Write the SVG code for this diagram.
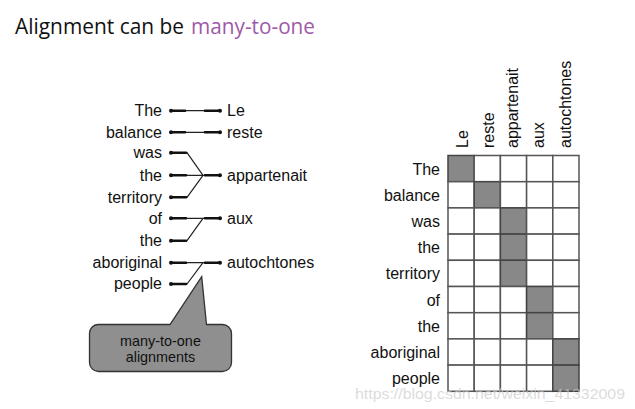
<svg xmlns="http://www.w3.org/2000/svg" width="635" height="409" viewBox="0 0 635 409">
<style>
.w{font-family:"Liberation Sans",Arial,sans-serif;font-size:16px;fill:#111}
.r{text-anchor:end}
.thin{stroke:#222;stroke-width:1.2;fill:none}
.thick{stroke:#111;stroke-width:2.6;fill:none;stroke-linecap:round}
.dot{fill:#111}
.cell{fill:#fff;stroke:#555;stroke-width:1.5}
.on{fill:#888;stroke:#444;stroke-width:1.5}
</style>
<rect width="635" height="409" fill="#fff"/>
<g id="title">
<text x="15" y="34" font-family="'Open Sans','Liberation Sans',sans-serif" font-size="22" fill="#111" textLength="169" lengthAdjust="spacingAndGlyphs">Alignment can be</text>
<text x="191" y="34" font-family="'Open Sans','Liberation Sans',sans-serif" font-size="22" fill="#9e5aa8" textLength="124" lengthAdjust="spacingAndGlyphs">many-to-one</text>
</g>
<g id="english-words" class="w r">
<text x="162" y="116">The</text>
<text x="162" y="137.5">balance</text>
<text x="162" y="158">was</text>
<text x="162" y="180.5">the</text>
<text x="162" y="202.5">territory</text>
<text x="162" y="223.5">of</text>
<text x="162" y="246">the</text>
<text x="162" y="268">aboriginal</text>
<text x="162" y="289">people</text>
</g>
<g id="french-words" class="w">
<text x="227" y="116">Le</text>
<text x="227" y="137.5">reste</text>
<text x="227" y="180.5">appartenait</text>
<text x="227" y="223.5">aux</text>
<text x="227" y="268">autochtones</text>
</g>
<g id="connectors">
<path class="thin" d="M171 110.7H220M171 132.3H220M171 152.7H187L203 175.3M171 175.3H220M171 197.3H187L203 175.3M171 218.3H220M171 240.7H187L203 218.3M171 262.7H220M171 284H187L203 262.7"/>
<path class="thick" d="M172 110.7H185M205 110.7H219M172 132.3H185M205 132.3H219M172 152.7H186M172 175.3H186M205 175.3H219M172 197.3H186M172 218.3H186M205 218.3H219M172 240.7H186M172 262.7H186M205 262.7H219M172 284H186"/>
<g class="dot">
<circle cx="171" cy="110.7" r="2"/><circle cx="220" cy="110.7" r="2"/>
<circle cx="171" cy="132.3" r="2"/><circle cx="220" cy="132.3" r="2"/>
<circle cx="171" cy="152.7" r="2"/><circle cx="171" cy="175.3" r="2"/><circle cx="171" cy="197.3" r="2"/><circle cx="220" cy="175.3" r="2"/>
<circle cx="171" cy="218.3" r="2"/><circle cx="171" cy="240.7" r="2"/><circle cx="220" cy="218.3" r="2"/>
<circle cx="171" cy="262.7" r="2"/><circle cx="171" cy="284" r="2"/><circle cx="220" cy="262.7" r="2"/>
</g>
</g>
<g id="callout">
<path d="M98 324.5H170L201.7 276.7L206.5 324.5H222A9 9 0 0 1 231.5 333.5V362.5A9 9 0 0 1 222.5 371.5H98.5A9 9 0 0 1 89.5 362.5V333.5A9 9 0 0 1 98 324.5Z" fill="#8f8f8f" stroke="#333" stroke-width="1.3"/>
<text x="160.5" y="345.5" font-family="'Liberation Sans',Arial,sans-serif" font-size="14.4" fill="#111" text-anchor="middle">many-to-one</text>
<text x="160.5" y="361.5" font-family="'Liberation Sans',Arial,sans-serif" font-size="14.4" fill="#111" text-anchor="middle">alignments</text>
</g>
<g id="matrix">
<g id="grid">
<rect class="on" x="448" y="155.5" width="26.2" height="26.2"/><rect class="cell" x="474.2" y="155.5" width="26.2" height="26.2"/><rect class="cell" x="500.4" y="155.5" width="26.2" height="26.2"/><rect class="cell" x="526.6" y="155.5" width="26.2" height="26.2"/><rect class="cell" x="552.8" y="155.5" width="26.2" height="26.2"/>
<rect class="cell" x="448" y="181.7" width="26.2" height="26.2"/><rect class="on" x="474.2" y="181.7" width="26.2" height="26.2"/><rect class="cell" x="500.4" y="181.7" width="26.2" height="26.2"/><rect class="cell" x="526.6" y="181.7" width="26.2" height="26.2"/><rect class="cell" x="552.8" y="181.7" width="26.2" height="26.2"/>
<rect class="cell" x="448" y="207.9" width="26.2" height="26.2"/><rect class="cell" x="474.2" y="207.9" width="26.2" height="26.2"/><rect class="on" x="500.4" y="207.9" width="26.2" height="26.2"/><rect class="cell" x="526.6" y="207.9" width="26.2" height="26.2"/><rect class="cell" x="552.8" y="207.9" width="26.2" height="26.2"/>
<rect class="cell" x="448" y="234.1" width="26.2" height="26.2"/><rect class="cell" x="474.2" y="234.1" width="26.2" height="26.2"/><rect class="on" x="500.4" y="234.1" width="26.2" height="26.2"/><rect class="cell" x="526.6" y="234.1" width="26.2" height="26.2"/><rect class="cell" x="552.8" y="234.1" width="26.2" height="26.2"/>
<rect class="cell" x="448" y="260.3" width="26.2" height="26.2"/><rect class="cell" x="474.2" y="260.3" width="26.2" height="26.2"/><rect class="on" x="500.4" y="260.3" width="26.2" height="26.2"/><rect class="cell" x="526.6" y="260.3" width="26.2" height="26.2"/><rect class="cell" x="552.8" y="260.3" width="26.2" height="26.2"/>
<rect class="cell" x="448" y="286.5" width="26.2" height="26.2"/><rect class="cell" x="474.2" y="286.5" width="26.2" height="26.2"/><rect class="cell" x="500.4" y="286.5" width="26.2" height="26.2"/><rect class="on" x="526.6" y="286.5" width="26.2" height="26.2"/><rect class="cell" x="552.8" y="286.5" width="26.2" height="26.2"/>
<rect class="cell" x="448" y="312.7" width="26.2" height="26.2"/><rect class="cell" x="474.2" y="312.7" width="26.2" height="26.2"/><rect class="cell" x="500.4" y="312.7" width="26.2" height="26.2"/><rect class="on" x="526.6" y="312.7" width="26.2" height="26.2"/><rect class="cell" x="552.8" y="312.7" width="26.2" height="26.2"/>
<rect class="cell" x="448" y="338.9" width="26.2" height="26.2"/><rect class="cell" x="474.2" y="338.9" width="26.2" height="26.2"/><rect class="cell" x="500.4" y="338.9" width="26.2" height="26.2"/><rect class="cell" x="526.6" y="338.9" width="26.2" height="26.2"/><rect class="on" x="552.8" y="338.9" width="26.2" height="26.2"/>
<rect class="cell" x="448" y="365.1" width="26.2" height="26.2"/><rect class="cell" x="474.2" y="365.1" width="26.2" height="26.2"/><rect class="cell" x="500.4" y="365.1" width="26.2" height="26.2"/><rect class="cell" x="526.6" y="365.1" width="26.2" height="26.2"/><rect class="on" x="552.8" y="365.1" width="26.2" height="26.2"/>
</g>
<g id="row-labels" class="w r">
<text x="440" y="174.6">The</text>
<text x="440" y="200.8">balance</text>
<text x="440" y="227">was</text>
<text x="440" y="253.2">the</text>
<text x="440" y="279.4">territory</text>
<text x="440" y="305.6">of</text>
<text x="440" y="331.8">the</text>
<text x="440" y="358">aboriginal</text>
<text x="440" y="384.2">people</text>
</g>
<g id="col-labels" class="w">
<text transform="translate(468,148) rotate(-90)">Le</text>
<text transform="translate(494,148) rotate(-90)">reste</text>
<text transform="translate(518,148) rotate(-90)">appartenait</text>
<text transform="translate(544,148) rotate(-90)">aux</text>
<text transform="translate(571,148) rotate(-90)">autochtones</text>
</g>
</g>
<text x="355" y="399" font-family="'Liberation Sans',Arial,sans-serif" font-size="14" fill="#ccc" fill-opacity="0.7" textLength="270" lengthAdjust="spacingAndGlyphs">https://blog.csdn.net/weixin_41332009</text>
</svg>
